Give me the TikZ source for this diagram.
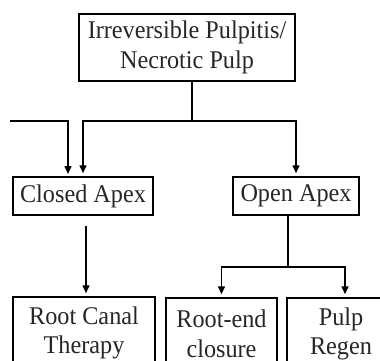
\documentclass[tikz,border=0pt]{standalone}
\usepackage{fontspec}
\setmainfont{Liberation Serif}[FakeStretch=0.95]
\usetikzlibrary{arrows.meta}
\begin{document}
\begin{tikzpicture}[x=1pt,y=-1pt,
  box/.style={draw, line width=1.5pt, align=center, inner sep=0pt,
    font=\fontsize{25.5}{29.5}\selectfont, text=black!85},
  conn/.style={line width=1.5pt},
  arr/.style={conn, -{Triangle[length=8pt,width=7pt]}, shorten >=3pt}]
\useasboundingbox (0,0) rectangle (380,360);
\clip (0,0) rectangle (380,360);
\node[box, minimum width=216pt, minimum height=67pt] (top) at (187,47.5) {Irreversible Pulpitis/\\Necrotic Pulp};
\node[box, minimum width=140pt, minimum height=38pt] (closed) at (83,196) {Closed Apex};
\node[box, minimum width=126pt, minimum height=38pt] (open) at (296,196) {Open Apex};
\node[box, minimum width=142pt, minimum height=72pt] (rc) at (84,333) {Root Canal\\Therapy};
\node[box, minimum width=111pt, minimum height=72pt] (re) at (221.5,334) {Root-end\\closure};
\node[box, minimum width=108pt, minimum height=72pt] (pr) at (341,334) {Pulp\\Regen};
\coordinate (j) at (192,121);
\coordinate (L) at (10,121);
\coordinate (L2) at (68,177);
\coordinate (o) at (288,267);
\draw[conn] (j |- top.south) -- (j);
\draw[arr] (j) -| (closed.north);
\draw[arr] (j) -| (open.north);
\draw[arr] (L) -| (L2);
\draw[arr, shorten <=10pt] ([xshift=3pt]closed.south) -- ([xshift=3pt]closed.south |- rc.north);
\draw[conn] (o |- open.south) -- (o);
\draw[arr] (o) -| (re.north);
\draw[arr] (o) -| ([xshift=4pt]pr.north);
\end{tikzpicture}
\end{document}
